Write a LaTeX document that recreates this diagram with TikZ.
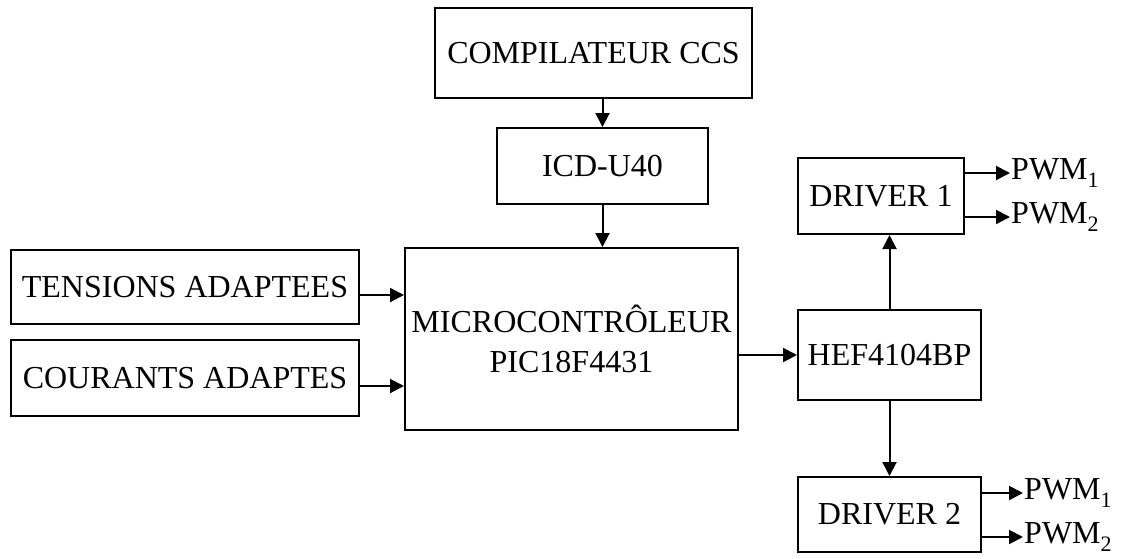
\documentclass[tikz,border=0pt]{standalone}
\usepackage{fontspec}
\setmainfont{Liberation Serif}
\usetikzlibrary{arrows.meta}
\begin{document}
\begin{tikzpicture}[x=1pt,y=-1pt,
  blk/.style={draw, line width=2pt, inner sep=0pt, align=center,
    font=\fontsize{32}{40}\selectfont},
  conn/.style={line width=2pt, -{Triangle[length=14pt,width=14pt]}},
  lbl/.style={anchor=west, inner sep=1pt, font=\fontsize{32}{40}\selectfont}]
\useasboundingbox (0,0) rectangle (1122,558);
\node[blk, minimum width=317pt, minimum height=90pt] (comp) at (593.5,53) {COMPILATEUR CCS};
\node[blk, minimum width=211pt, minimum height=76pt] (icd) at (602.5,166) {ICD-U40};
\node[blk, minimum width=348pt, minimum height=74pt] (tens) at (185,287) {TENSIONS ADAPTEES};
\node[blk, minimum width=348pt, minimum height=76pt] (cour) at (185,378) {COURANTS ADAPTES};
\node[blk, minimum width=333pt, minimum height=182pt] (micro) at (571.5,339) {MICROCONTRÔLEUR\\PIC18F4431};
\node[blk, minimum width=183pt, minimum height=90pt] (hef) at (889.5,355) {HEF4104BP};
\node[blk, minimum width=166pt, minimum height=76pt] (drv1) at (881,196) {DRIVER 1};
\node[blk, minimum width=183pt, minimum height=75pt] (drv2) at (889.5,514.5) {DRIVER 2};

\newcommand{\pwmsub}[1]{PWM\raisebox{-8pt}{\fontsize{22}{22}\selectfont #1}}
\node[lbl] (p11) at (1010,173) {\pwmsub{1}};
\node[lbl] (p12) at (1010,217) {\pwmsub{2}};
\node[lbl] (p21) at (1023,493) {\pwmsub{1}};
\node[lbl] (p22) at (1023,537) {\pwmsub{2}};

\coordinate (ty) at (0,295);
\coordinate (cy) at (0,386);

\draw[conn] (icd.north |- comp.south) -- (icd.north);
\draw[conn] (icd.south) -- (icd.south |- micro.north);
\draw[conn] (tens.east |- ty) -- (micro.west |- ty);
\draw[conn] (cour.east |- cy) -- (micro.west |- cy);
\draw[conn] (micro.east |- hef.west) -- (hef.west);
\draw[conn] (hef.north) -- (hef.north |- drv1.south);
\draw[conn] (hef.south) -- (drv2.north);
\draw[conn] (drv1.east |- p11.west) -- (p11.west);
\draw[conn] (drv1.east |- p12.west) -- (p12.west);
\draw[conn] (drv2.east |- p21.west) -- (p21.west);
\draw[conn] (drv2.east |- p22.west) -- (p22.west);
\end{tikzpicture}
\end{document}
